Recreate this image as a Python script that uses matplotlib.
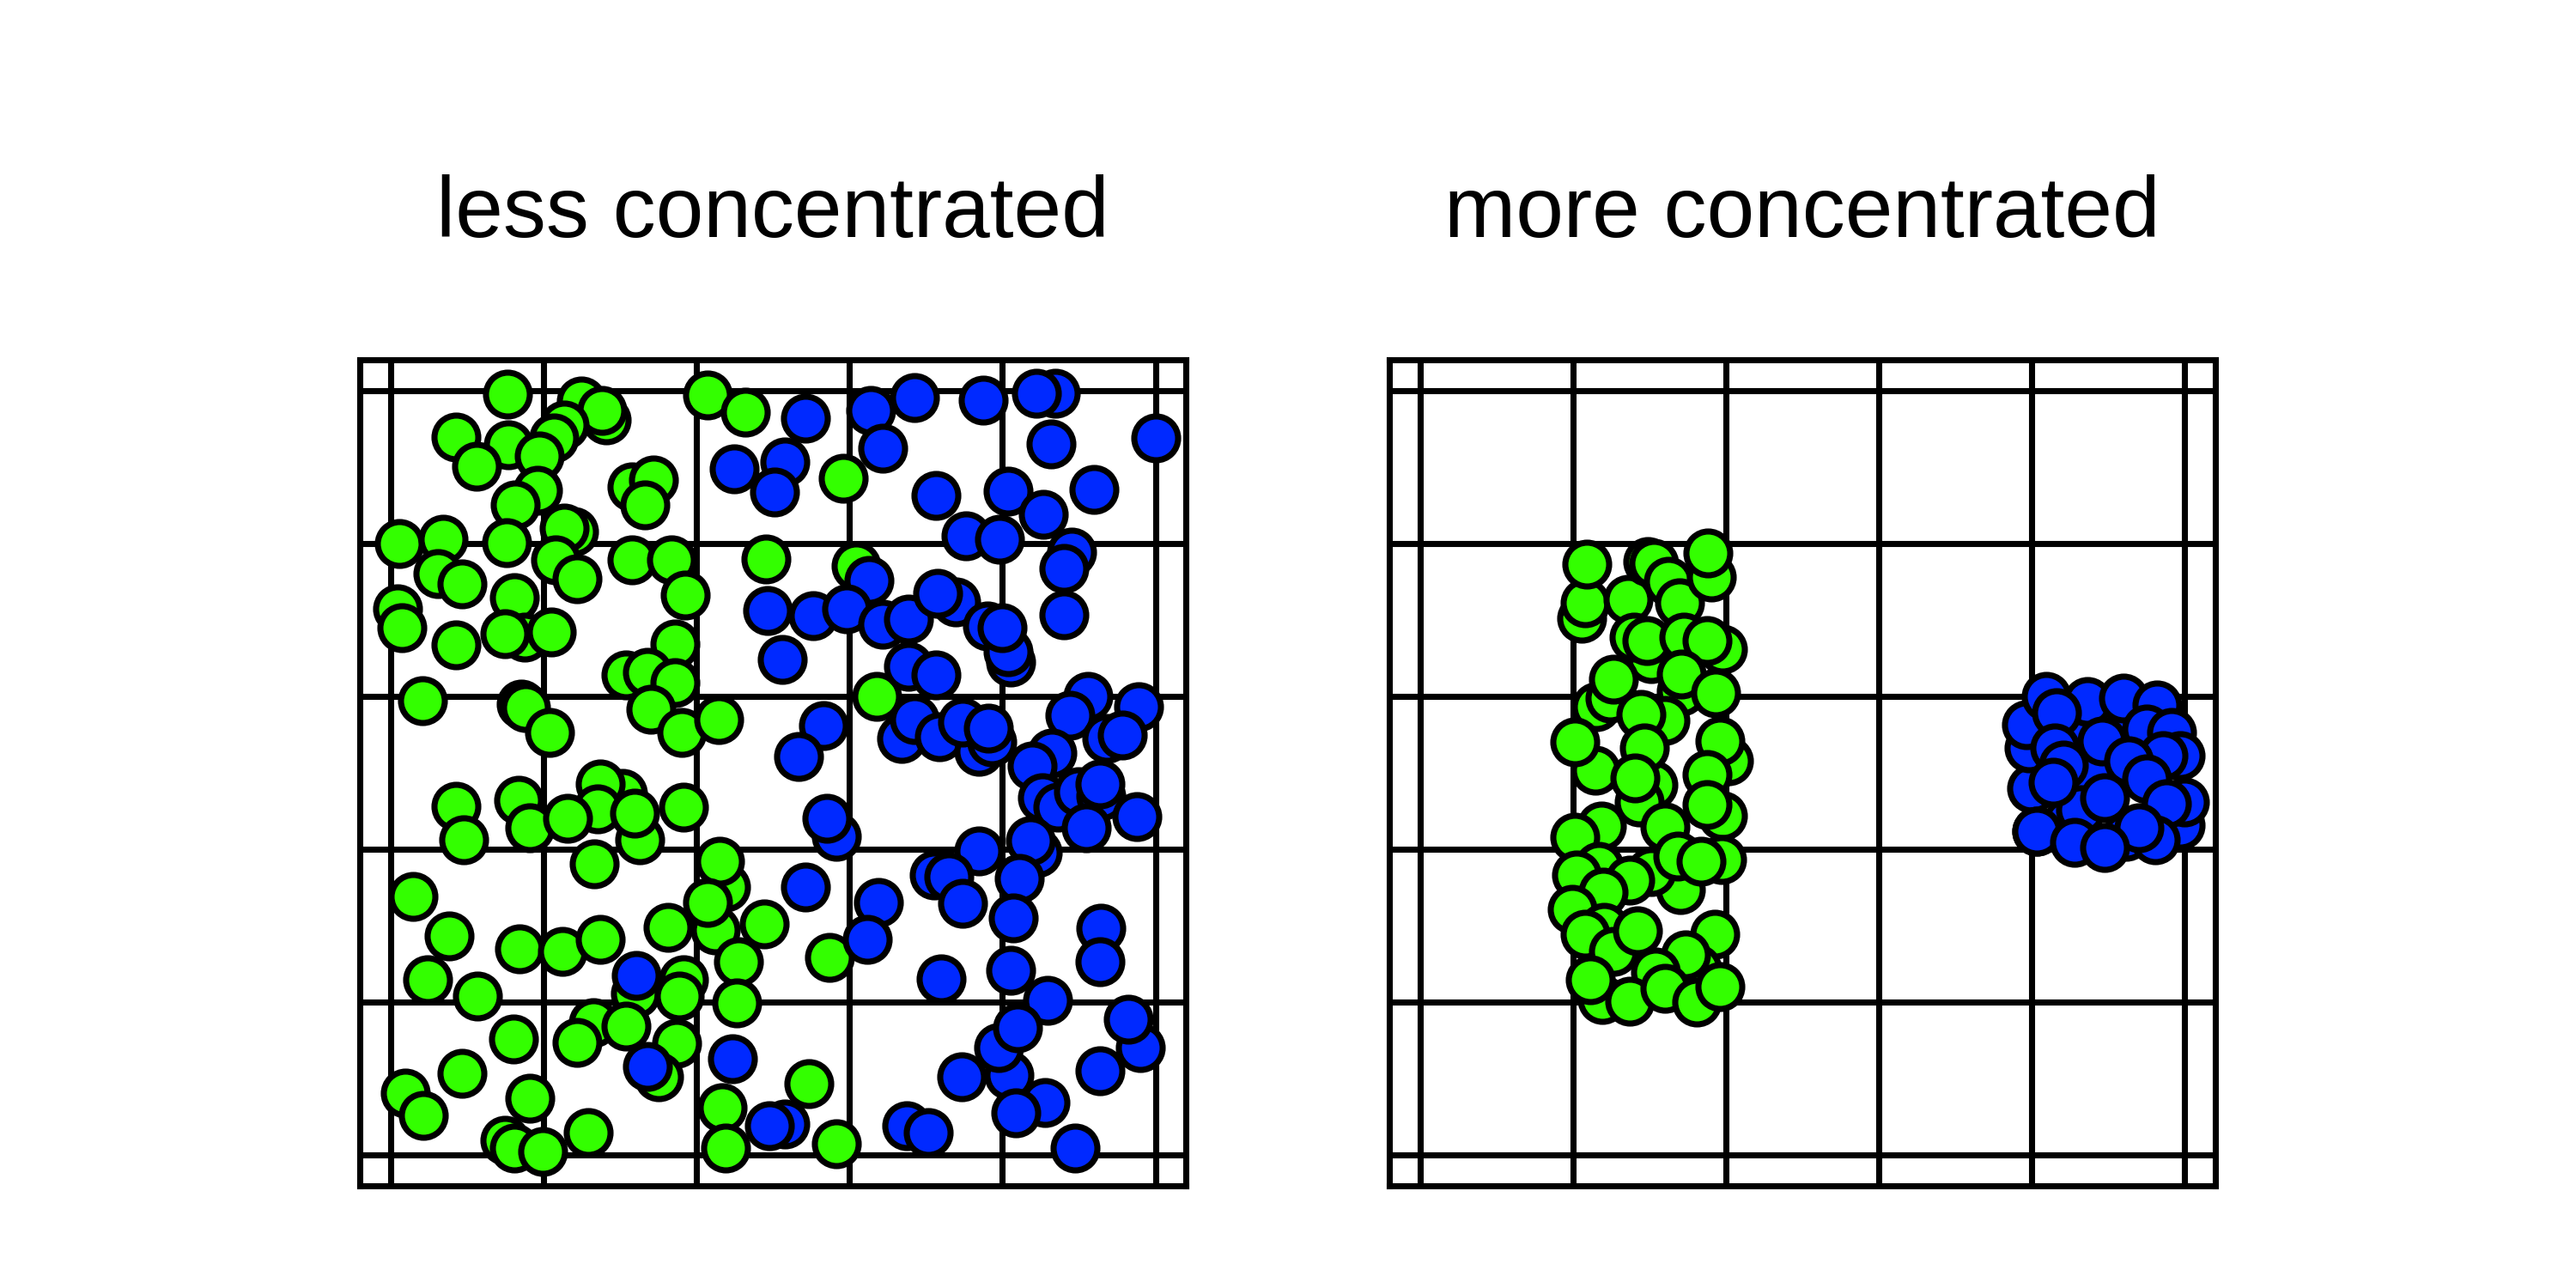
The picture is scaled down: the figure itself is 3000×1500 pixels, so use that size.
import numpy as np
import matplotlib
matplotlib.use("Agg")
import matplotlib.pyplot as plt

plt.rcParams['font.family'] = ['Liberation Sans', 'DejaVu Sans']

titles = ['less concentrated', 'more concentrated']
green = '#33ff00'
blue = '#0029ff'

# left panel, (x, y) pairs
less_green = [
    (0.153, 0.995), (0.249, 0.986), (0.282, 0.961), (0.276, 0.974), (0.415, 0.994),
    (0.464, 0.972), (0.086, 0.939), (0.154, 0.929), (0.113, 0.901), (0.227, 0.955),
    (0.214, 0.938), (0.195, 0.914), (0.192, 0.870), (0.163, 0.850), (0.316, 0.874),
    (0.344, 0.883), (0.333, 0.850), (0.011, 0.800), (0.069, 0.806), (0.152, 0.801),
    (0.239, 0.816), (0.227, 0.820), (0.216, 0.778), (0.244, 0.754), (0.316, 0.778),
    (0.367, 0.778), (0.385, 0.732), (0.062, 0.761), (0.094, 0.747), (0.162, 0.729),
    (0.009, 0.714), (0.015, 0.690), (0.086, 0.667), (0.175, 0.677), (0.150, 0.682),
    (0.210, 0.684), (0.372, 0.669), (0.308, 0.628), (0.336, 0.632), (0.372, 0.618),
    (0.042, 0.594), (0.171, 0.590), (0.177, 0.585), (0.208, 0.553), (0.340, 0.583),
    (0.381, 0.553), (0.429, 0.570), (0.491, 0.780), (0.592, 0.885), (0.609, 0.771),
    (0.636, 0.600), (0.303, 0.473), (0.274, 0.486), (0.271, 0.453), (0.086, 0.456),
    (0.096, 0.413), (0.167, 0.464), (0.182, 0.428), (0.232, 0.441), (0.326, 0.413),
    (0.319, 0.447), (0.383, 0.455), (0.266, 0.381), (0.438, 0.351), (0.430, 0.385),
    (0.425, 0.295), (0.415, 0.330), (0.489, 0.302), (0.363, 0.298), (0.030, 0.338),
    (0.077, 0.287), (0.169, 0.270), (0.225, 0.267), (0.274, 0.282), (0.049, 0.229),
    (0.114, 0.208), (0.320, 0.212), (0.383, 0.229), (0.378, 0.208), (0.455, 0.253),
    (0.453, 0.199), (0.161, 0.152), (0.265, 0.173), (0.244, 0.148), (0.308, 0.169),
    (0.374, 0.146), (0.350, 0.103), (0.093, 0.107), (0.019, 0.081), (0.043, 0.052),
    (0.182, 0.075), (0.434, 0.062), (0.150, 0.020), (0.162, 0.009), (0.199, 0.005),
    (0.258, 0.030), (0.438, 0.009), (0.574, 0.259), (0.547, 0.094), (0.583, 0.015),
]
less_blue = [
    (0.542, 0.964), (0.628, 0.974), (0.685, 0.991), (0.643, 0.925), (0.775, 0.987),
    (0.869, 0.996), (0.845, 0.996), (0.863, 0.930), (1.000, 0.938), (0.515, 0.906),
    (0.502, 0.867), (0.713, 0.863), (0.807, 0.868), (0.853, 0.838), (0.920, 0.871),
    (0.752, 0.810), (0.796, 0.805), (0.891, 0.789), (0.880, 0.767), (0.626, 0.752),
    (0.493, 0.712), (0.553, 0.705), (0.596, 0.714), (0.643, 0.694), (0.677, 0.701),
    (0.739, 0.724), (0.715, 0.735), (0.780, 0.692), (0.811, 0.645), (0.807, 0.658),
    (0.799, 0.690), (0.880, 0.707), (0.512, 0.648), (0.677, 0.639), (0.713, 0.628),
    (0.912, 0.600), (0.888, 0.575), (0.978, 0.586), (0.937, 0.545), (0.957, 0.549),
    (0.566, 0.562), (0.534, 0.521), (0.668, 0.545), (0.685, 0.570), (0.718, 0.547),
    (0.769, 0.528), (0.786, 0.541), (0.748, 0.566), (0.782, 0.558), (0.865, 0.526),
    (0.839, 0.509), (0.449, 0.898), (0.321, 0.235), (0.336, 0.116), (0.447, 0.126),
    (0.852, 0.468), (0.873, 0.455), (0.899, 0.475), (0.929, 0.470), (0.928, 0.486),
    (0.910, 0.428), (0.976, 0.443), (0.583, 0.417), (0.570, 0.441), (0.542, 0.351),
    (0.638, 0.330), (0.623, 0.282), (0.769, 0.398), (0.711, 0.366), (0.730, 0.364),
    (0.748, 0.329), (0.846, 0.396), (0.837, 0.411), (0.822, 0.362), (0.814, 0.310),
    (0.811, 0.242), (0.929, 0.297), (0.927, 0.253), (0.720, 0.231), (0.859, 0.203),
    (0.809, 0.105), (0.795, 0.141), (0.820, 0.167), (0.980, 0.141), (0.965, 0.178),
    (0.927, 0.111), (0.747, 0.103), (0.856, 0.069), (0.818, 0.056), (0.515, 0.041),
    (0.495, 0.039), (0.675, 0.039), (0.703, 0.030), (0.895, 0.009),
]

# right panel
more_green = [
    (0.212, 0.702), (0.216, 0.722), (0.218, 0.773), (0.272, 0.727), (0.298, 0.776),
    (0.306, 0.774), (0.325, 0.751), (0.340, 0.722), (0.381, 0.756), (0.377, 0.787),
    (0.302, 0.649), (0.280, 0.678), (0.297, 0.673), (0.396, 0.662), (0.345, 0.678),
    (0.376, 0.673), (0.342, 0.607), (0.342, 0.629), (0.387, 0.604), (0.231, 0.587),
    (0.249, 0.598), (0.253, 0.622), (0.321, 0.569), (0.289, 0.576), (0.229, 0.504),
    (0.203, 0.540), (0.305, 0.484), (0.287, 0.462), (0.294, 0.533), (0.281, 0.493),
    (0.404, 0.516), (0.392, 0.542), (0.375, 0.498), (0.396, 0.444), (0.375, 0.458),
    (0.237, 0.431), (0.203, 0.416), (0.321, 0.429), (0.341, 0.347), (0.302, 0.371),
    (0.337, 0.391), (0.394, 0.387), (0.368, 0.384), (0.234, 0.378), (0.205, 0.367),
    (0.274, 0.360), (0.240, 0.344), (0.199, 0.322), (0.241, 0.298), (0.216, 0.289),
    (0.253, 0.267), (0.284, 0.293), (0.385, 0.289), (0.362, 0.244), (0.347, 0.262),
    (0.308, 0.240), (0.238, 0.204), (0.223, 0.229), (0.274, 0.202), (0.321, 0.218),
    (0.362, 0.200), (0.392, 0.220),
]
more_blue = [
    (0.800, 0.480), (0.807, 0.424), (0.796, 0.533), (0.793, 0.563), (0.860, 0.563),
    (0.916, 0.559), (0.879, 0.499), (0.847, 0.436), (0.923, 0.417), (0.819, 0.600),
    (0.873, 0.593), (0.920, 0.598), (0.964, 0.589), (0.832, 0.579), (0.950, 0.557),
    (0.983, 0.553), (0.892, 0.542), (0.830, 0.533), (0.994, 0.523), (0.972, 0.523),
    (0.841, 0.510), (0.927, 0.516), (0.994, 0.432), (0.950, 0.492), (0.864, 0.452),
    (0.828, 0.488), (0.895, 0.467), (1.000, 0.462), (0.976, 0.460), (0.807, 0.424),
    (0.961, 0.413), (0.856, 0.409), (0.940, 0.428), (0.895, 0.402),
]

fig = plt.figure(figsize=(10, 5), dpi=300)
panels = [(0.1397, less_green, less_blue), (0.5393, more_green, more_blue)]
for (left, g, b), title in zip(panels, titles):
    ax = fig.add_axes([left, 0.0793, 0.3207, 0.6413])
    ax.set_xlim(-0.04, 1.04)
    ax.set_ylim(-0.04, 1.04)
    ticks = np.linspace(0, 1, 6)
    ax.set_xticks(ticks)
    ax.set_yticks(ticks)
    ax.tick_params(length=0, labelbottom=False, labelleft=False)
    ax.grid(True, color='black', linewidth=1.7)
    ax.set_axisbelow(True)
    for sp in ax.spines.values():
        sp.set_linewidth(1.7)
    g = np.array(g)
    b = np.array(b)
    ax.scatter(g[:, 0], g[:, 1], s=150, c=green, edgecolors='black', linewidths=1.7, zorder=3)
    ax.scatter(b[:, 0], b[:, 1], s=150, c=blue, edgecolors='black', linewidths=1.7, zorder=4)
    ax.text(0.5, 1.149, title, transform=ax.transAxes, ha='center', va='baseline', fontsize=24)

plt.savefig('out.png', dpi=300)
